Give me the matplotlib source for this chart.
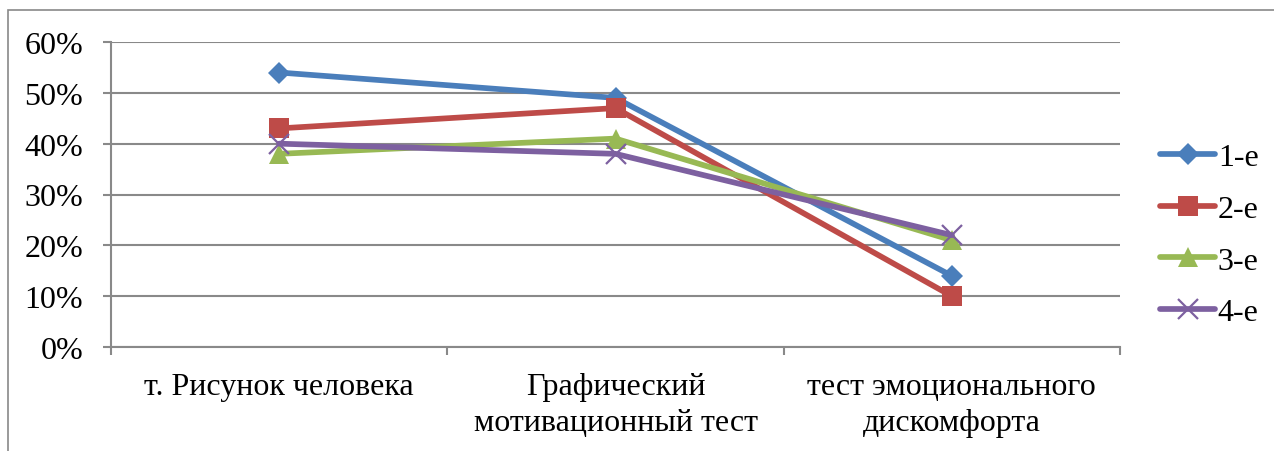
import matplotlib.pyplot as plt
from matplotlib.patches import Rectangle
from matplotlib.ticker import FixedLocator, MultipleLocator, PercentFormatter

plt.rcParams["font.family"] = ["Liberation Serif", "DejaVu Serif"]

categories = ["т. Рисунок человека", "Графический\nмотивационный тест",
              "тест эмоционального\nдискомфорта"]
series_names = ["1-е", "2-е", "3-е", "4-е"]
s1 = [54, 49, 14]
s2 = [43, 47, 10]
s3 = [38, 41, 21]
s4 = [40, 38, 22]

colors = ["#4A7EBB", "#BE4B48", "#98B954", "#7D60A0"]
markers = [("D", 11.5, 0), ("s", 14, 0), ("^", 15, 0), ("x", 14, 1.6)]
grid_c = "#898989"
fs = 23

fig = plt.figure(figsize=(12.74, 4.52), dpi=100)
fig.patches.append(Rectangle((8 / 1274, -0.1), 1.2, 1 - 11 / 452 + 0.1,
                             transform=fig.transFigure, fill=False,
                             edgecolor=grid_c, linewidth=1.2))
ax = fig.add_axes([111 / 1274, 1 - 348 / 452, 1009 / 1274, 305 / 452])

x = list(range(len(categories)))
for vals, name, c, (m, ms, mew) in zip([s1, s2, s3, s4], series_names, colors, markers):
    ax.plot(x, vals, color=c, linewidth=4.1, marker=m, markersize=ms,
            markeredgewidth=mew, markeredgecolor=c, label=name,
            solid_capstyle="round", solid_joinstyle="round")

ax.set_xlim(-0.5, 2.5)
ax.set_ylim(0, 60)
ax.yaxis.set_major_locator(MultipleLocator(10))
ax.yaxis.set_major_formatter(PercentFormatter(decimals=0))
ax.set_xticks(x)
ax.set_xticklabels(categories, linespacing=1.32)
ax.xaxis.set_minor_locator(FixedLocator([-0.5, 0.5, 1.5, 2.5]))
ax.tick_params(axis="x", which="major", length=0, pad=18, labelsize=fs)
ax.tick_params(axis="x", which="minor", length=6, width=1.5, color=grid_c)
ax.tick_params(axis="y", length=6, width=1.5, color=grid_c, pad=14, labelsize=fs)

ax.grid(axis="y", color=grid_c, linewidth=1.5)
ax.set_axisbelow(True)
for side in ["top", "right"]:
    ax.spines[side].set_visible(False)
for side in ["left", "bottom"]:
    ax.spines[side].set_color(grid_c)
    ax.spines[side].set_linewidth(1.5)

ax.legend(loc="center left", bbox_to_anchor=(1.040, 0.367), frameon=False,
          fontsize=fs, handlelength=1.7, handletextpad=0.1, labelspacing=0.7,
          borderaxespad=0, borderpad=0)

fig.savefig("out.png", dpi=100)
